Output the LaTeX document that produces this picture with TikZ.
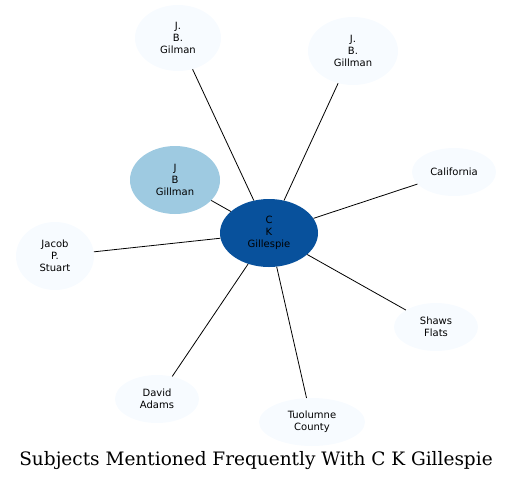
\documentclass[tikz,border=0pt]{standalone}
\usepackage{fontspec}
\newfontfamily\nodefont{DejaVu Sans}
\newfontfamily\titlefont{DejaVu Serif}
\usetikzlibrary{shapes.geometric}
\definecolor{pale}{HTML}{F7FBFF}
\definecolor{midblue}{HTML}{9ECAE1}
\definecolor{darkblue}{HTML}{08519C}
\tikzset{
  ent/.style={ellipse, fill=pale, draw=none, inner sep=0pt, align=center,
    font=\nodefont\fontsize{10}{12}\selectfont},
  edge/.style={draw=black, line width=0.8pt},
}
\begin{document}
\begin{tikzpicture}[x=1pt,y=-1pt]
\useasboundingbox (0,0) rectangle (513,483);
\node[ent, minimum width=86pt, minimum height=66pt] (jbgilman) at (178,38) {J.\\B.\\Gilman};
\node[ent, minimum width=90pt, minimum height=68pt] (jbgillman) at (353,51) {J.\\B.\\Gillman};
\node[ent, minimum width=84pt, minimum height=48pt] (cal) at (454,172) {California};
\node[ent, fill=midblue, minimum width=90pt, minimum height=68pt] (jbg) at (175,180) {J\\B\\Gillman};
\node[ent, fill=darkblue, minimum width=98pt, minimum height=68pt] (ckg) at (269,233) {C\\K\\Gillespie};
\node[ent, minimum width=78pt, minimum height=68pt] (jps) at (55,256) {Jacob\\P.\\Stuart};
\node[ent, minimum width=84pt, minimum height=48pt] (shaws) at (436,327) {Shaws\\Flats};
\node[ent, minimum width=84pt, minimum height=48pt] (david) at (157,399) {David\\Adams};
\node[ent, minimum width=106pt, minimum height=48pt] (tuol) at (312,422) {Tuolumne\\County};
\node[font=\titlefont\fontsize{18.5}{21}\selectfont] (title) at (256,461) {Subjects Mentioned Frequently With C K Gillespie};
\foreach \n in {jbgilman,jbgillman,cal,jbg,jps,shaws,david,tuol}
  \draw[edge] (ckg) -- (\n);
\end{tikzpicture}
\end{document}
